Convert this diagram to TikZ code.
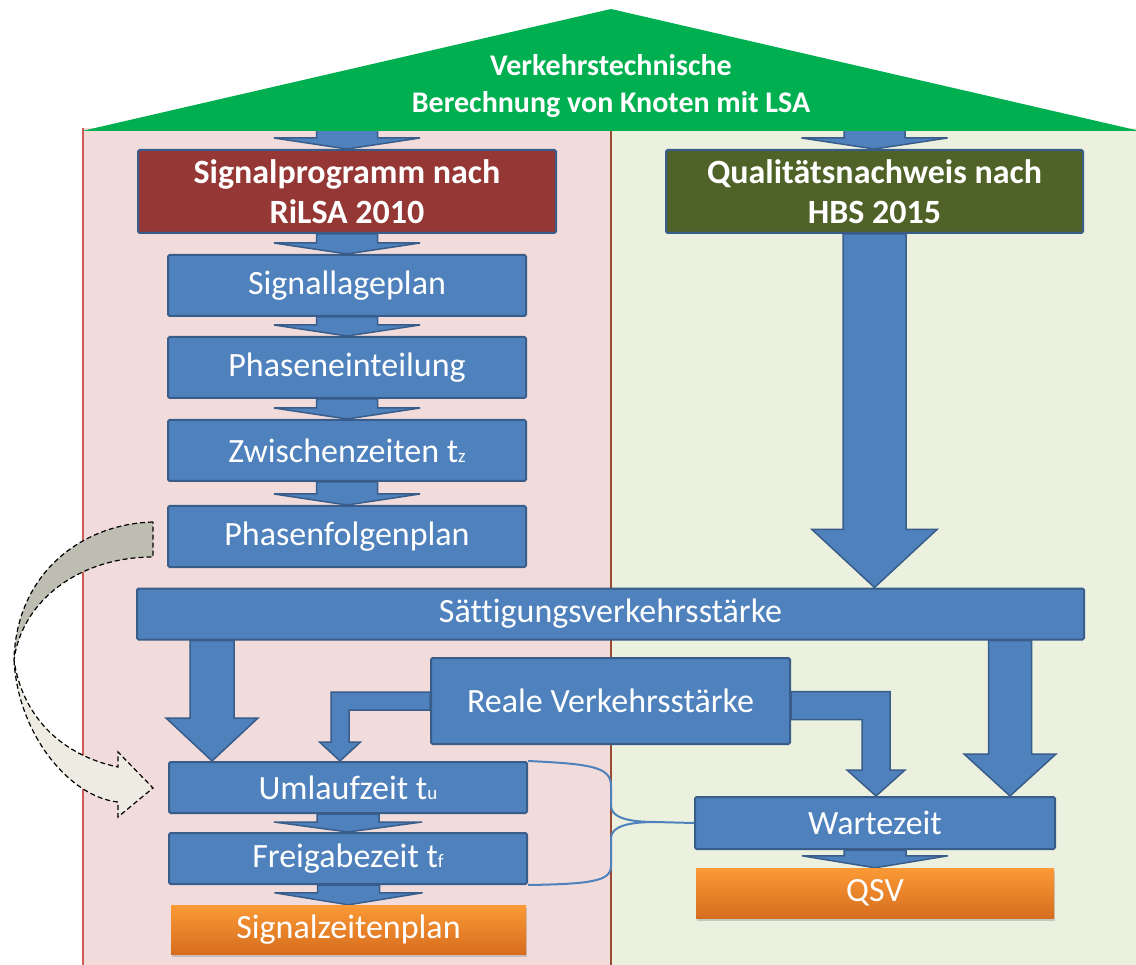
\documentclass[tikz,border=0pt]{standalone}
\usepackage{fontspec}
\setmainfont[Ligatures=NoCommon]{Carlito}
\usetikzlibrary{calc,shadows}

\definecolor{boxblue}{HTML}{4F81BD}
\definecolor{boxedge}{HTML}{385D8A}
\definecolor{roofgreen}{HTML}{00B050}
\definecolor{leftbg}{HTML}{F2DCDB}
\definecolor{rightbg}{HTML}{EBF1DE}
\definecolor{leftedge}{HTML}{D05A56}
\definecolor{midedge}{HTML}{9A4A2E}
\definecolor{rilsared}{HTML}{953735}
\definecolor{hbsolive}{HTML}{4F6228}
\definecolor{orangetop}{HTML}{FB9A36}
\definecolor{orangebot}{HTML}{D66D1E}
\definecolor{folddark}{HTML}{BDBDB2}
\definecolor{foldlight}{HTML}{EEECE2}

\pgfdeclarelayer{panels}
\pgfdeclarelayer{arrows}
\pgfsetlayers{panels,arrows,main}

\tikzset{
  stepbox/.style={draw=boxedge, fill=boxblue, line width=2pt, rounded corners=1.5pt,
    inner sep=0pt, text=white, font=\fontsize{34}{34}\selectfont},
  headbox/.style={stepbox, align=center, font=\bfseries\fontsize{34}{40}\selectfont},
  resultbox/.style={inner sep=0pt, text=white, top color=orangetop, bottom color=orangebot,
    font=\fontsize{34}{34}\selectfont,
    drop shadow={shadow xshift=1pt, shadow yshift=-3pt, opacity=.35}},
  blockarrow/.style={fill=boxblue, draw=boxedge, line width=1.5pt, line join=miter},
  bracket/.style={draw=boxblue, line width=2pt},
  foldedge/.style={draw=black, line width=1.2pt, dash pattern=on 5pt off 3pt},
}

% straight block arrow: start, tip, shaft half width, head half width, head length
\newcommand\varrow[5]{%
  \filldraw[blockarrow] let \p1=(#1), \p2=(#2) in
    (\x2-#3pt,\y1) -- (\x2-#3pt,\y2+#5pt) -- (\x2-#4pt,\y2+#5pt) -- (\x2,\y2)
    -- (\x2+#4pt,\y2+#5pt) -- (\x2+#3pt,\y2+#5pt) -- (\x2+#3pt,\y1) -- cycle;}

\newcommand\sub[1]{{\fontsize{19}{19}\selectfont #1}}

\begin{document}
\begin{tikzpicture}[x=1pt,y=-1pt]
\useasboundingbox (0,0) rectangle (1136,965);

% house body: two halves
\begin{pgfonlayer}{panels}
  \fill[leftbg] (83,128) rectangle (611,965);
  \fill[rightbg] (611,128) rectangle (1136,965);
  \draw[leftedge, line width=1.5pt] (83,128) -- (83,965);
  \draw[midedge, line width=2pt] (611,128) -- (611,965);
\end{pgfonlayer}

% roof
\fill[roofgreen] (82,131) -- (611,9) -- (1140,131) -- cycle;
\node[text=white, align=center, font=\bfseries\fontsize{30}{37}\selectfont] (roof) at (611,86)
  {Verkehrstechnische\\Berechnung von Knoten mit LSA};
\coordinate (eaveL) at (347,129);
\coordinate (eaveR) at (874.5,129);

% left column: signal programme
\node[headbox, fill=rilsared, minimum width=418, minimum height=83] (sp) at (347,191.5)
  {Signalprogramm nach\\RiLSA 2010};
\node[stepbox, minimum width=358, minimum height=61] (sl) at (347,285.5) {Signallageplan};
\node[stepbox, minimum width=358, minimum height=61] (pe) at (347,367.5) {Phaseneinteilung};
\node[stepbox, minimum width=358, minimum height=61] (zz) at (347,450.5) {Zwischenzeiten t\sub{z}};
\node[stepbox, minimum width=358, minimum height=61] (pf) at (347,536.5) {Phasenfolgenplan};

% right column: quality assessment
\node[headbox, fill=hbsolive, minimum width=417, minimum height=83] (qn) at (874.5,191.5)
  {Qualitätsnachweis nach\\HBS 2015};

% shared and lower steps
\node[stepbox, minimum width=947, minimum height=51] (sv) at (610.5,614) {Sättigungsverkehrsstärke};
\node[stepbox, minimum width=359, minimum height=86] (rv) at (610.5,701) {Reale Verkehrsstärke};
\node[stepbox, minimum width=358, minimum height=51] (ul) at (348,787.5) {Umlaufzeit t\sub{u}};
\node[stepbox, minimum width=358, minimum height=51] (fz) at (348,858.5) {Freigabezeit t\sub{f}};
\node[resultbox, minimum width=355, minimum height=49] (sz) at (348.5,929.5) {Signalzeitenplan};
\node[stepbox, minimum width=360, minimum height=52] (wz) at (875,823) {Wartezeit};
\node[resultbox, minimum width=358, minimum height=50] (qsv) at (875,893) {QSV};

% block arrows
\begin{pgfonlayer}{arrows}
  \varrow{eaveL}{sp.north}{30.5}{73}{11}
  \varrow{eaveR}{qn.north}{30.5}{73}{11}
  \varrow{sp.south}{sl.north}{30.5}{73}{11}
  \varrow{sl.south}{pe.north}{30.5}{73}{11}
  \varrow{pe.south}{zz.north}{30.5}{73}{11}
  \varrow{zz.south}{pf.north}{30.5}{73}{11}
  \varrow{qn.south}{qn.south |- sv.north}{31.5}{62.5}{58}
  \varrow{sv.south}{$(ul.north west)+(44,0)$}{22}{46}{43}
  \varrow{sv.south}{$(wz.north east)+(-46,0)$}{21.5}{46}{42}
  \varrow{ul.south}{fz.north}{31}{74}{10}
  \varrow{fz.south}{sz.north}{31}{74}{12}
  \varrow{wz.south}{qsv.north}{31}{73}{12}
  % bent arrows out of the real traffic volume
  \filldraw[blockarrow] let \p1=(rv.west), \p2=($(ul.north)+(-8,0)$) in
    (\x1,\y1+9pt) -- (\x2-9pt,\y1+9pt) -- (\x2-9pt,\y2+19pt) -- (\x2-20.5pt,\y2+19pt)
    -- (\x2,\y2) -- (\x2+20.5pt,\y2+19pt) -- (\x2+9pt,\y2+19pt) -- (\x2+9pt,\y1-9pt)
    -- (\x1,\y1-9pt) -- cycle;
  \filldraw[blockarrow] let \p1=($(rv.east)+(0,4.5)$), \p2=($(wz.north)+(1,0)$) in
    (\x1,\y1+14pt) -- (\x2+14pt,\y1+14pt) -- (\x2+14pt,\y2+26pt) -- (\x2+29pt,\y2+26pt)
    -- (\x2,\y2) -- (\x2-29pt,\y2+26pt) -- (\x2-14pt,\y2+26pt) -- (\x2-14pt,\y1-14pt)
    -- (\x1,\y1-14pt) -- cycle;
\end{pgfonlayer}

% bracket joining cycle time and green time to the delay
\coordinate (bj) at (655,822);
\draw[bracket] (ul.north east) .. controls (592,764) and (611,767) .. (611,786)
  -- (611,806) .. controls (611,818) and (630,822) .. (bj) -- (wz.west);
\draw[bracket] (bj) .. controls (630,822) and (611,826) .. (611,838)
  -- (611,866) .. controls (611,881) and (592,884) .. (fz.south east);

% curved feedback arrow from the phase sequence to the cycle time
\filldraw[fill=folddark, foldedge] (153,522) .. controls (80,524) and (16,575) .. (14,660)
  .. controls (22,600) and (80,557) .. (153,557) -- cycle;
\filldraw[fill=foldlight, foldedge] (14,660) .. controls (18,735) and (70,797) .. (118,802)
  -- (118,817) -- (153,788) -- (118,752) -- (118,767)
  .. controls (60,755) and (22,715) .. (14,660) -- cycle;
\end{tikzpicture}
\end{document}
